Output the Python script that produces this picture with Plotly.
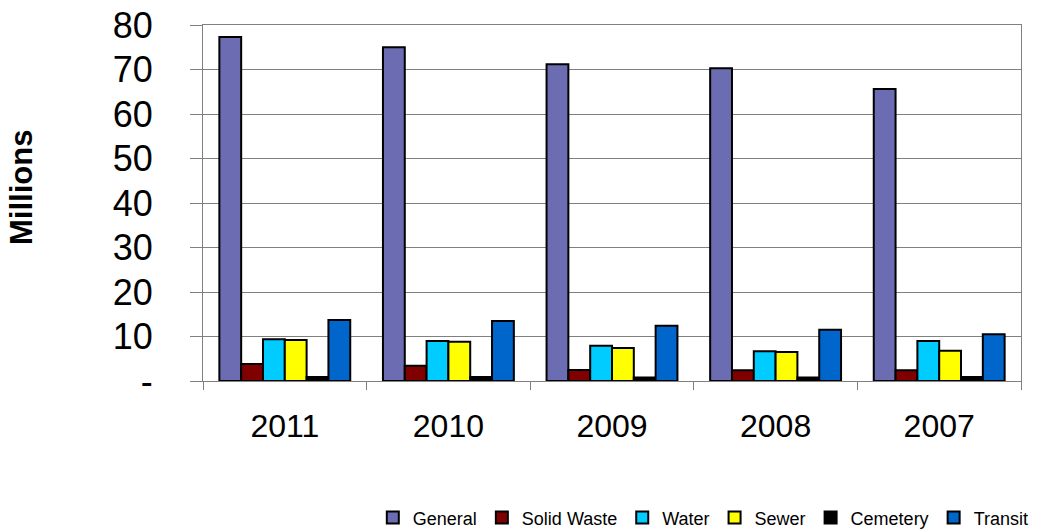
import plotly.graph_objects as go

years = ["2011", "2010", "2009", "2008", "2007"]
general = [77.3, 75.0, 71.2, 70.3, 65.6]
solid_waste = [3.8, 3.4, 2.5, 2.4, 2.4]
water = [9.4, 9.0, 7.9, 6.7, 9.0]
sewer = [9.2, 8.8, 7.4, 6.5, 6.8]
cemetery = [0.9, 0.9, 0.8, 0.8, 0.9]
transit = [13.7, 13.5, 12.4, 11.5, 10.5]

series = [
    ("General", general, "#6C6CB2"),
    ("Solid Waste", solid_waste, "#800000"),
    ("Water", water, "#00CCFF"),
    ("Sewer", sewer, "#FFFF00"),
    ("Cemetery", cemetery, "#000000"),
    ("Transit", transit, "#0066CC"),
]

fig = go.Figure()
for name, vals, color in series:
    fig.add_trace(go.Bar(
        x=years, y=vals, name=name,
        marker=dict(color=color, line=dict(color="#000000", width=2)),
    ))

yticks = [0, 10, 20, 30, 40, 50, 60, 70, 80]
ytext = ["-"] + [str(v) for v in yticks[1:]]

fig.update_layout(
    width=1039, height=529,
    margin=dict(l=203, r=18, t=25, b=148, autoexpand=False),
    paper_bgcolor="white", plot_bgcolor="white",
    barmode="group", bargap=0.2, bargroupgap=0,
    font=dict(family="Liberation Sans, Arial, sans-serif", color="#000000"),
    showlegend=True,
    legend=dict(orientation="h", x=0.995, xanchor="right", xref="container",
                y=0.021, yanchor="middle", yref="container",
                font=dict(size=18), traceorder="normal",
                itemwidth=30, tracegroupgap=0, bgcolor="rgba(0,0,0,0)"),
    xaxis=dict(
        automargin=False,
        showline=True, linecolor="#808080", linewidth=1, mirror=True,
        ticks="outside", ticklen=8, tickcolor="#808080", tickson="boundaries",
        tickfont=dict(size=32), showgrid=False, ticklabelstandoff=17,
    ),
    yaxis=dict(
        automargin=False,
        range=[0, 80], tickvals=yticks, ticktext=ytext,
        showline=True, linecolor="#808080", linewidth=1, mirror=True,
        ticks="outside", ticklen=12, tickcolor="#808080",
        tickfont=dict(size=36), ticklabelstandoff=30,
        showgrid=True, gridcolor="#808080", gridwidth=1,
    ),
    annotations=[dict(
        text="<b>Millions</b>", xref="paper", yref="paper",
        x=-0.2213, y=0.545, xanchor="center", yanchor="middle",
        textangle=-90, showarrow=False, font=dict(size=31),
    )],
)

fig.write_html("out.html", config={"displayModeBar": False},
               post_script="document.body.style.margin='0';")
